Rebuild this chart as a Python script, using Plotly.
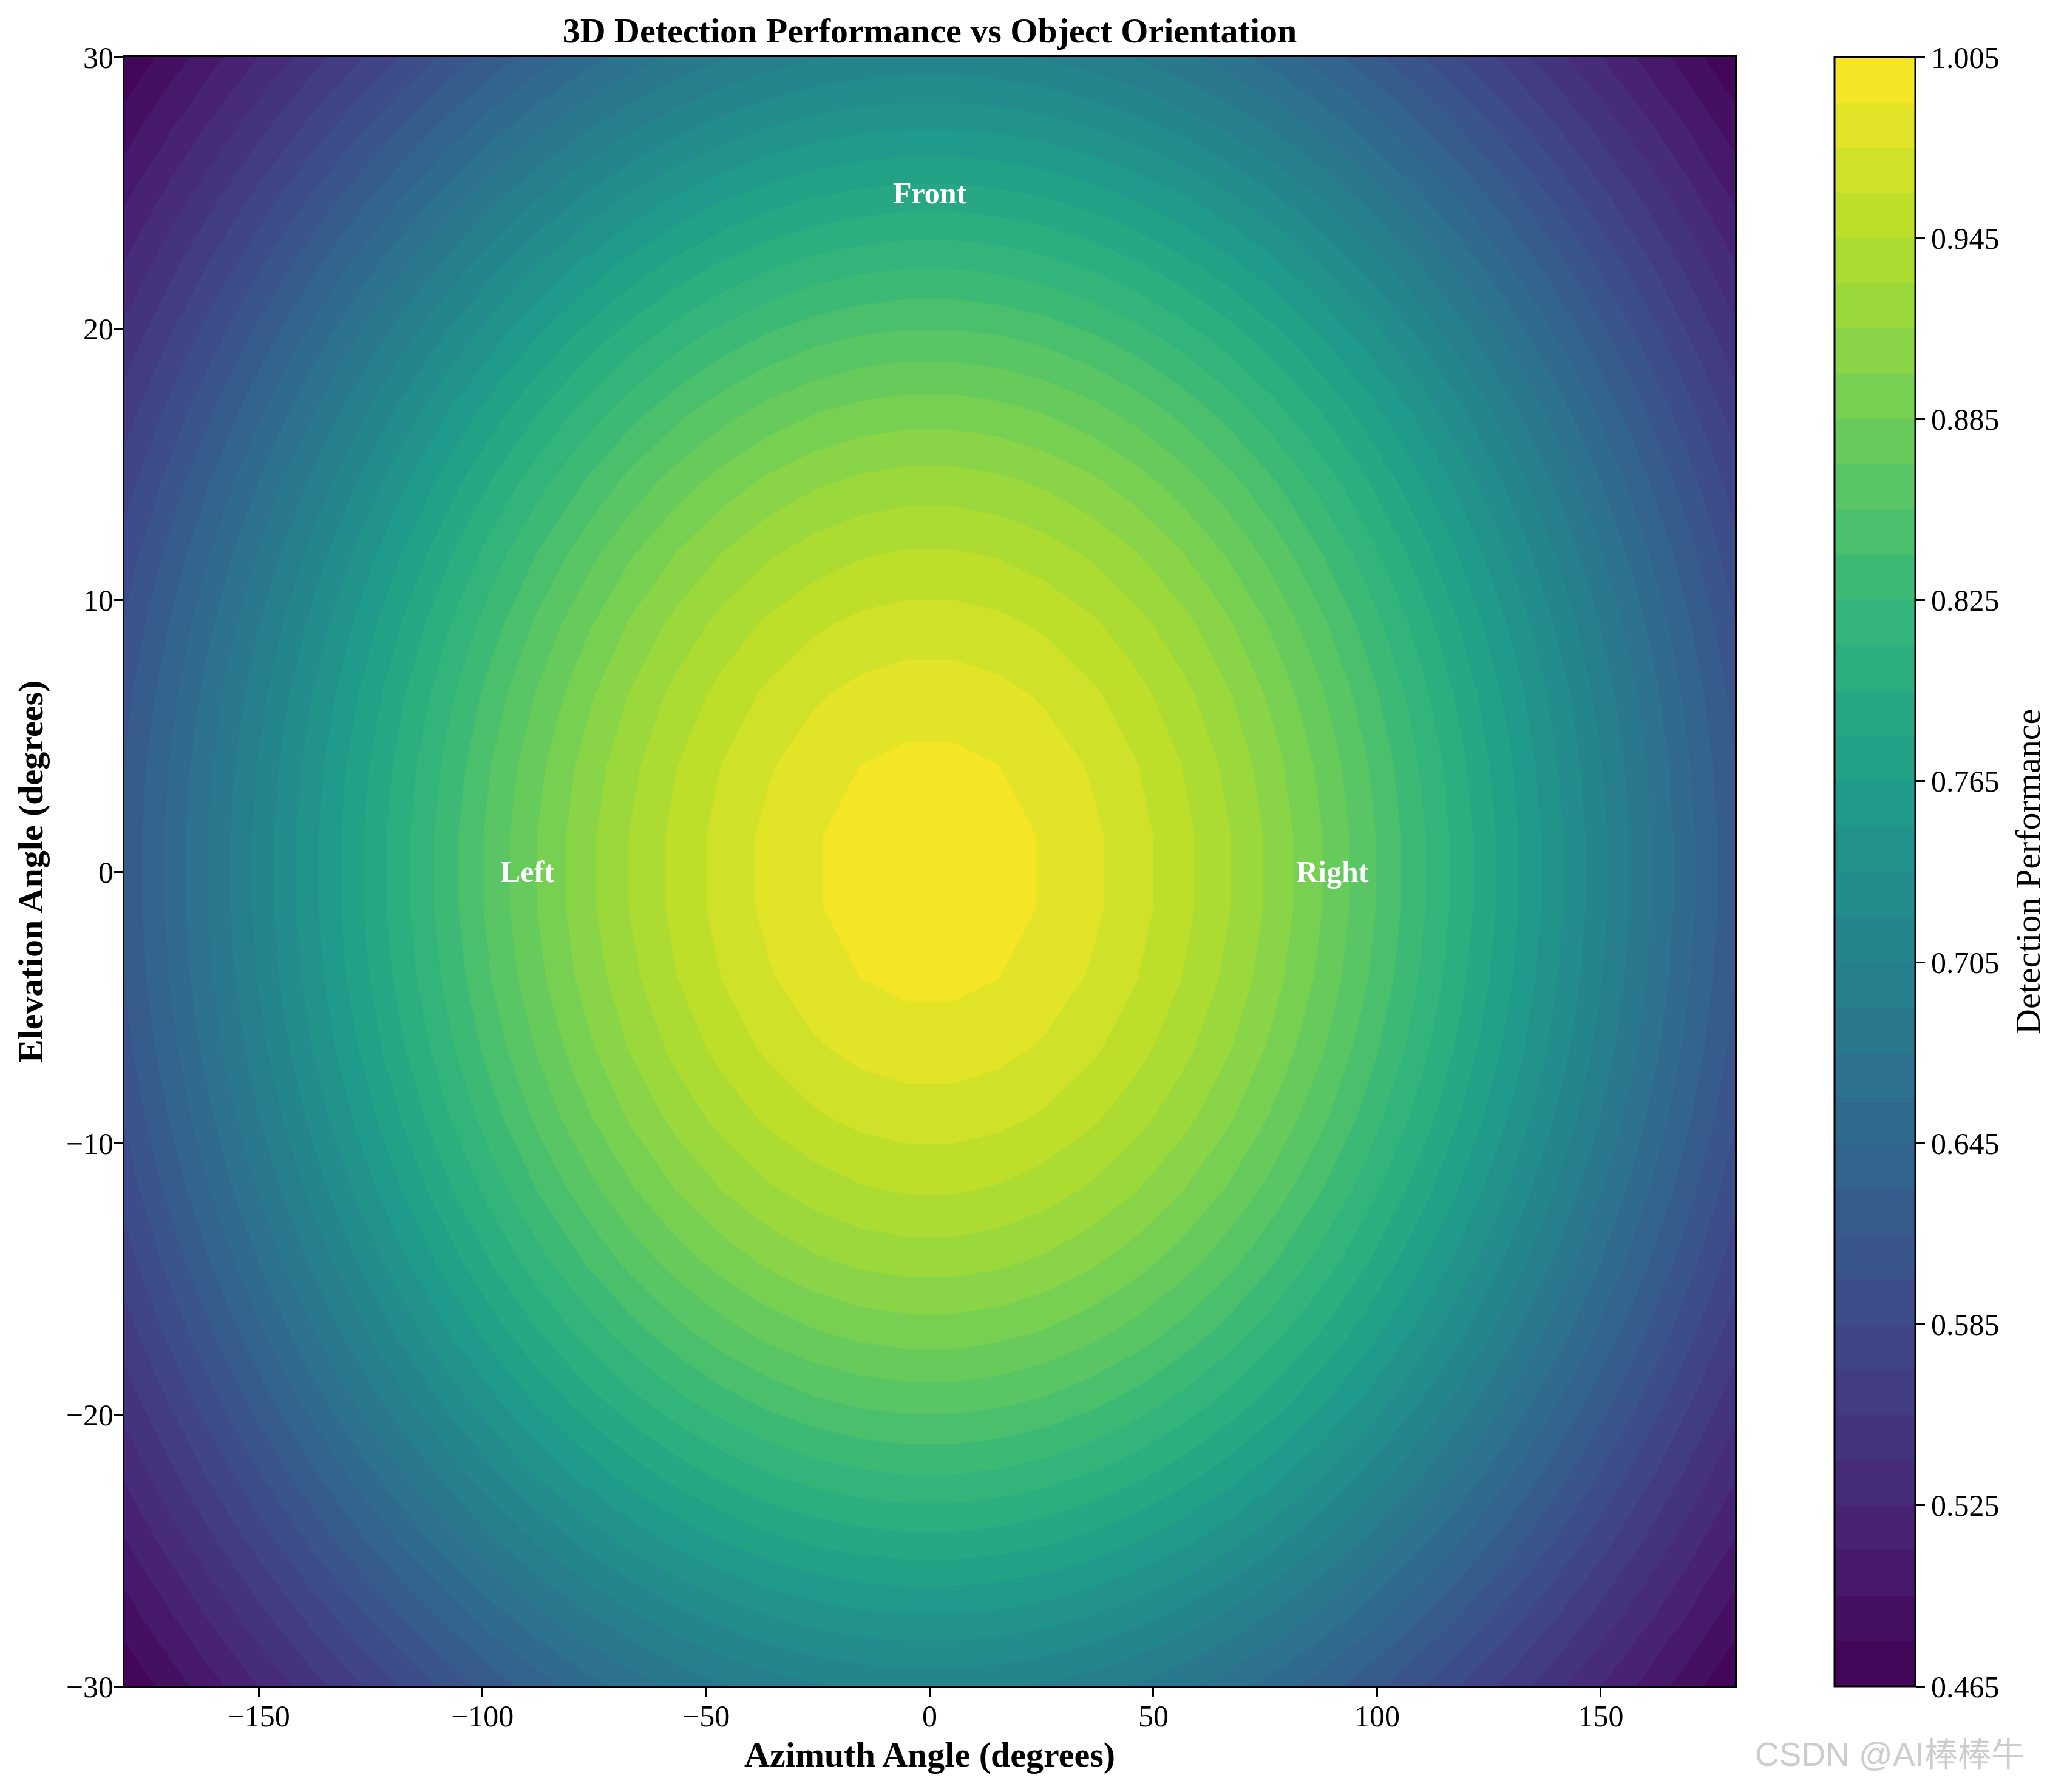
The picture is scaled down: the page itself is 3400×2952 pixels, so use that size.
import plotly.graph_objects as go
import plotly.colors as pc

# ---------------- data ----------------
azimuth_deg = [-180.0, -169.71, -159.43, -149.14, -138.86, -128.57, -118.29, -108.0,
               -97.71, -87.43, -77.14, -66.86, -56.57, -46.29, -36.0, -25.71, -15.43, -5.14,
               5.14, 15.43, 25.71, 36.0, 46.29, 56.57, 66.86, 77.14, 87.43, 97.71,
               108.0, 118.29, 128.57, 138.86, 149.14, 159.43, 169.71, 180.0]

elevation_deg = [-30.0, -27.39, -24.78, -22.17, -19.57, -16.96, -14.35, -11.74, -9.13, -6.52,
                 -3.91, -1.30, 1.30, 3.91, 6.52, 9.13, 11.74, 14.35, 16.96, 19.57,
                 22.17, 24.78, 27.39, 30.0]

# detection performance along the horizontal centre line (elevation ~ 0)
perf_along_azimuth = [0.6185, 0.6497, 0.6812, 0.7127, 0.7440, 0.7748, 0.8046, 0.8335,
                      0.8610, 0.8866, 0.9102, 0.9316, 0.9504, 0.9664, 0.9795, 0.9895, 0.9962, 0.9996,
                      0.9996, 0.9962, 0.9895, 0.9795, 0.9664, 0.9504, 0.9316, 0.9102,
                      0.8866, 0.8610, 0.8335, 0.8046, 0.7748, 0.7440, 0.7127, 0.6812, 0.6497, 0.6185]

# detection performance along the vertical centre line (azimuth ~ 0)
perf_along_elevation = [0.7101, 0.7494, 0.7885, 0.8257, 0.8606, 0.8929, 0.9218, 0.9467,
                        0.9674, 0.9832, 0.9939, 0.9993, 0.9993, 0.9939, 0.9832, 0.9674,
                        0.9467, 0.9218, 0.8929, 0.8606, 0.8257, 0.7885, 0.7494, 0.7101]

floor_level = 0.2  # asymptotic performance far from the front view

cbar_ticks = [0.465, 0.525, 0.585, 0.645, 0.705, 0.765, 0.825, 0.885, 0.945, 1.005]
x_ticks = [-150, -100, -50, 0, 50, 100, 150]
y_ticks = [-30, -20, -10, 0, 10, 20, 30]
labels = [("Front", 0, 25), ("Left", -90, 0), ("Right", 90, 0)]

# 2-D table built from the two centre-line profiles
z = [[floor_level + (pa - floor_level) * (pe - floor_level) / (1 - floor_level)
      for pa in perf_along_azimuth] for pe in perf_along_elevation]

# ---------------- styling ----------------
lv_start, lv_end, lv_size = 0.465, 1.005, 0.015
n_bands = 36
band_cols = pc.sample_colorscale("Viridis", [(k + 0.5) / n_bands for k in range(n_bands)])

# colourscale for the contour fill (plotly samples band k at (k+1)/(n+1))
cscale = [[0.0, band_cols[0]]]
for k in range(n_bands):
    cscale.append([(k + 1) / (n_bands + 1), band_cols[k]])
cscale.append([1.0, band_cols[-1]])

# stepped colourscale for the stand-alone colour bar
cb_scale = []
for k in range(n_bands):
    cb_scale.append([k / n_bands, band_cols[k]])
    cb_scale.append([(k + 1) / n_bands, band_cols[k]])

SERIF = "Liberation Serif, Times New Roman, serif"
OFF = 8                      # default page margin of the html body
W, H = 3400 - OFF, 2952 - OFF
# plot-area edges in page pixels
L, R, T, B = 205, 2858, 94, 2778

fig = go.Figure()
fig.add_trace(go.Contour(
    x=azimuth_deg, y=elevation_deg, z=z,
    autocontour=False,
    contours=dict(start=lv_start, end=lv_end, size=lv_size, coloring="fill", showlines=False),
    line=dict(width=0, smoothing=0),
    colorscale=cscale, showscale=False,
    hoverinfo="skip",
))

# invisible marker trace that carries the colour bar (exact 0.465 – 1.005 span)
fig.add_trace(go.Scatter(
    x=[0], y=[0], mode="markers", hoverinfo="skip",
    marker=dict(size=1, opacity=0, color=[lv_start], cmin=lv_start, cmax=lv_end,
                colorscale=cb_scale, showscale=True,
                colorbar=dict(
                    x=(3022 - L) / (R - L), xanchor="left", xpad=0, ypad=0,
                    y=0.5, yanchor="middle", len=1, lenmode="fraction",
                    thickness=133, thicknessmode="pixels",
                    outlinewidth=3, outlinecolor="black",
                    tickvals=cbar_ticks, ticktext=[f"{v:.3f}" for v in cbar_ticks],
                    ticks="outside", ticklen=15, tickwidth=3, tickcolor="black",
                    tickfont=dict(family=SERIF, size=50, color="black"),
                )),
))

axis_common = dict(showline=True, linecolor="black", linewidth=3, mirror=True,
                   ticks="outside", ticklen=15, tickwidth=3, tickcolor="black",
                   showgrid=False, zeroline=False, automargin=False,
                   tickfont=dict(family=SERIF, size=50, color="black"))

fig.update_xaxes(range=[-180, 180], tickvals=x_ticks, ticklabelstandoff=-12,
                 ticktext=[str(v).replace("-", "\u2212") for v in x_ticks], **axis_common)
fig.update_yaxes(range=[-30, 30], tickvals=y_ticks, ticklabelstandoff=-10,
                 ticktext=[str(v).replace("-", "\u2212") for v in y_ticks], **axis_common)

annotations = []
for txt, ax_, el_ in labels:
    annotations.append(dict(x=ax_, y=el_, xref="x", yref="y", text=f"<b>{txt}</b>",
                            showarrow=False, font=dict(family=SERIF, size=50, color="white"),
                            xanchor="center", yanchor="middle"))
# axis titles
annotations.append(dict(x=0.5, y=(B - 2890) / (B - T), xref="paper", yref="paper",
                        text="<b>Azimuth Angle (degrees)</b>", showarrow=False,
                        font=dict(family=SERIF, size=58, color="black"),
                        xanchor="center", yanchor="middle"))
annotations.append(dict(x=(50 - L) / (R - L), y=0.5, xref="paper", yref="paper",
                        text="<b>Elevation Angle (degrees)</b>", showarrow=False, textangle=-90,
                        font=dict(family=SERIF, size=58, color="black"),
                        xanchor="center", yanchor="middle"))
annotations.append(dict(x=(3340 - L) / (R - L), y=0.5, xref="paper", yref="paper",
                        text="Detection Performance", showarrow=False, textangle=-90,
                        font=dict(family=SERIF, size=58, color="black"),
                        xanchor="center", yanchor="middle"))
# watermark
annotations.append(dict(x=(3113 - L) / (R - L), y=(B - 2890) / (B - T), xref="paper", yref="paper",
                        text="CSDN @AI棒棒牛", showarrow=False,
                        font=dict(family="Liberation Sans, Noto Sans CJK SC, sans-serif", size=55,
                                  color="rgba(200,200,200,0.9)"),
                        xanchor="center", yanchor="middle"))

fig.update_layout(
    template="none",
    width=W, height=H,
    margin=dict(l=L - OFF, r=(3400 - OFF) - (R - OFF), t=T - OFF, b=(2952 - OFF) - (B - OFF), pad=0),
    paper_bgcolor="white", plot_bgcolor="white",
    title=dict(text="<b>3D Detection Performance vs Object Orientation</b>",
               x=0.5, xref="paper", xanchor="center",
               y=1 - (50 - OFF) / H, yref="container", yanchor="middle",
               font=dict(family=SERIF, size=58, color="black")),
    annotations=annotations,
    showlegend=False,
)

fig.write_html("out.html")
